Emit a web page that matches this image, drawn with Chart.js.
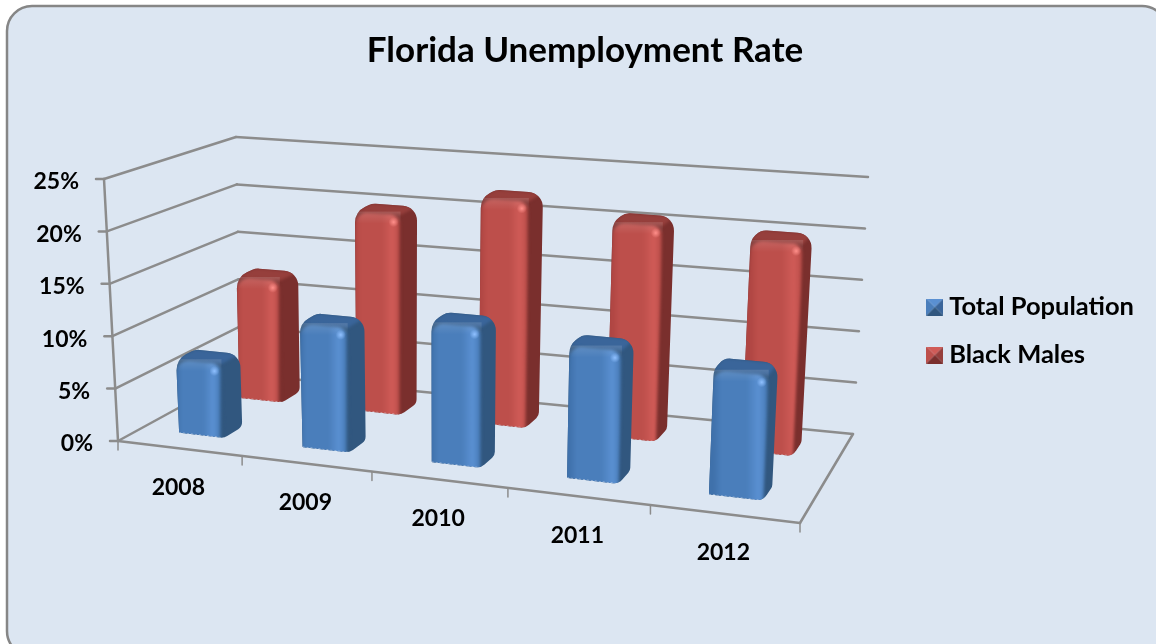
<!DOCTYPE html>
<html>
<head>
<meta charset="utf-8">
<title>Florida Unemployment Rate</title>
<script src="https://cdn.jsdelivr.net/npm/chart.js@4"></script>
<style>
  html, body { margin: 0; background: #fff; }
  #wrap { width: 1156px; height: 644px; position: relative; overflow: hidden; }
</style>
</head>
<body>
<div id="wrap"><canvas id="chart"></canvas></div>
<script>
const years = ['2008', '2009', '2010', '2011', '2012'];
const totalPopulation = [7.1, 11.8, 13.1, 12.2, 11.3];
const blackMales = [12.3, 19.9, 22.2, 20.8, 20.1];
const seriesNames = ['Total Population', 'Black Males'];

const FONT = 'Lato, Carlito, "Open Sans", sans-serif';

// Oblique box the chart sits in: screen corners of the value/category/depth cube.
const CUBE = {
  c000: [118, 441], c100: [800, 523], c001: [240.5, 374], c101: [853, 434],
  c010: [104, 179], c110: [814.5, 239], c011: [236, 137], c111: [868, 177]
};
const NEARER_RIGHT = 0.89;

const mix = (a, b, t) => [a[0] + (b[0] - a[0]) * t, a[1] + (b[1] - a[1]) * t];

function project(u, v, d) {
  const w = NEARER_RIGHT * u / ((1 - u) + NEARER_RIGHT * u);
  const bottom = mix(mix(CUBE.c000, CUBE.c100, w), mix(CUBE.c001, CUBE.c101, w), d);
  const top = mix(mix(CUBE.c010, CUBE.c110, w), mix(CUBE.c011, CUBE.c111, w), d);
  return mix(bottom, top, v);
}

const LOOKS = [
  { depth: [0.19, 0.35], front: '#4a7ebb', left: '#3f71ab', glow: '#5a90d2', side: '#31577f', top: '#3a659a', spot: '#8fc0ff', name: '#4f81bd' },
  { depth: [0.70, 0.855], front: '#bd4f4b', left: '#b04643', glow: '#d05b57', side: '#7a2f2d', top: '#963f3c', spot: '#ff8f8a', name: '#c0504d' }
];

function roundedPath(ctx, pts, radii) {
  const n = pts.length;
  const start = mix(pts[n - 1], pts[0], 0.5);
  ctx.beginPath();
  ctx.moveTo(start[0], start[1]);
  for (let i = 0; i < n; i++) {
    const p = pts[i], q = pts[(i + 1) % n];
    ctx.arcTo(p[0], p[1], q[0], q[1], radii[i]);
  }
  ctx.closePath();
}

function drawColumn(ctx, chart, el, look) {
  const a = chart.chartArea;
  const u0 = (el.x - el.width / 2 - a.left) / a.width;
  const u1 = (el.x + el.width / 2 - a.left) / a.width;
  const v = (a.bottom - el.y) / a.height;
  const [d0, d1] = look.depth;

  const fbl = project(u0, 0, d0), fbr = project(u1, 0, d0), bbr = project(u1, 0, d1);
  const ftl = project(u0, v, d0), ftr = project(u1, v, d0);
  const btr = project(u1, v, d1), btl = project(u0, v, d1);

  ctx.save();
  roundedPath(ctx, [fbl, fbr, bbr, btr, btl, ftl], [1, 11, 8, 15, 14, 17]);
  ctx.clip();
  ctx.fillStyle = look.side;
  ctx.fillRect(fbl[0] - 40, btl[1] - 40, bbr[0] - fbl[0] + 80, fbr[1] - btl[1] + 80);

  // top face
  ctx.save();
  ctx.filter = 'blur(1.5px)';
  ctx.fillStyle = look.top;
  ctx.beginPath();
  [ftl, ftr, btr, btl].forEach((p, i) => i ? ctx.lineTo(p[0], p[1]) : ctx.moveTo(p[0], p[1]));
  ctx.closePath();
  ctx.fill();

  // front face, brighter towards its right-hand bevel
  const g = ctx.createLinearGradient(ftl[0], 0, ftr[0], 0);
  g.addColorStop(0, look.left);
  g.addColorStop(0.14, look.front);
  g.addColorStop(0.6, look.front);
  g.addColorStop(0.82, look.glow);
  g.addColorStop(0.95, look.front);
  g.addColorStop(1, look.side);
  ctx.fillStyle = g;
  roundedPath(ctx, [[fbl[0] - 6, fbl[1] + 8], [fbr[0], fbr[1] + 8], ftr, ftl], [0, 0, 11, 13]);
  ctx.fill();
  ctx.restore();

  // lit rim along the top of the front face
  const rim = ctx.createLinearGradient(0, ftl[1], 0, ftl[1] + 12);
  rim.addColorStop(0, 'rgba(255,255,255,0.13)');
  rim.addColorStop(1, 'rgba(255,255,255,0)');
  ctx.fillStyle = rim;
  ctx.fillRect(ftl[0], ftl[1], ftr[0] - ftl[0], 14);

  // specular spot on the corner
  const sx = ftr[0] - 7, sy = ftr[1] + 7;
  const spot = ctx.createRadialGradient(sx, sy, 0, sx, sy, 5);
  spot.addColorStop(0, look.spot);
  spot.addColorStop(1, look.spot + '00');
  ctx.fillStyle = spot;
  ctx.fillRect(sx - 6, sy - 6, 12, 12);

  // pale dotted foot
  ctx.strokeStyle = 'rgba(235,240,250,0.65)';
  ctx.lineWidth = 1;
  ctx.setLineDash([2, 2]);
  ctx.beginPath();
  ctx.moveTo(fbl[0], fbl[1]);
  ctx.lineTo(fbr[0], fbr[1]);
  ctx.stroke();
  ctx.restore();
}

function line(ctx, a, b) {
  ctx.beginPath();
  ctx.moveTo(a[0], a[1]);
  ctx.lineTo(b[0], b[1]);
  ctx.stroke();
}

const chartFrame = {
  id: 'chartFrame',
  beforeDraw(chart) {
    const ctx = chart.ctx;
    ctx.save();
    ctx.fillStyle = '#dce6f2';
    ctx.strokeStyle = '#868686';
    ctx.lineWidth = 2.5;
    ctx.beginPath();
    ctx.roundRect(7, 6, 1160, 650, 25);
    ctx.fill();
    ctx.stroke();
    ctx.restore();
  }
};

const obliqueAxes = {
  id: 'obliqueAxes',
  beforeDatasetsDraw(chart) {
    const ctx = chart.ctx;
    const { x: xs, y: ys } = chart.scales;
    const a = chart.chartArea;
    ctx.save();
    ctx.strokeStyle = '#8c8c8c';
    ctx.lineWidth = 2.5;
    ctx.lineCap = 'round';

    // side and back walls, one pair of rules per value tick
    ys.ticks.forEach((t) => {
      const v = (a.bottom - ys.getPixelForValue(t.value)) / a.height;
      const front = project(0, v, 0), back = project(0, v, 1);
      line(ctx, front, back);
      line(ctx, back, project(1, v, 1));
      line(ctx, [front[0] - 8, front[1]], front);
    });
    // floor and upright axis
    line(ctx, project(0, 0, 0), project(1, 0, 0));
    line(ctx, project(1, 0, 0), project(1, 0, 1));
    line(ctx, project(0, 0, 0), project(0, 1, 0));

    // category separators on the front edge
    ctx.lineWidth = 1.5;
    for (let i = 0; i <= years.length; i++) {
      const p = project(i / years.length, 0, 0);
      line(ctx, p, [p[0], p[1] + 9]);
    }

    ctx.fillStyle = '#000';
    ctx.font = 'bold 23px ' + FONT;
    ctx.textBaseline = 'middle';
    ctx.textAlign = 'right';
    ys.ticks.forEach((t) => {
      const v = (a.bottom - ys.getPixelForValue(t.value)) / a.height;
      const p = project(0, v, 0);
      ctx.fillText(t.label, p[0] - 25, p[1] + 3);
    });
    ctx.textAlign = 'center';
    xs.ticks.forEach((t, i) => {
      const u = (xs.getPixelForValue(i) - a.left) / a.width;
      const p = project(u, 0, 0);
      ctx.fillText(t.label, p[0] - 1, p[1] + 39);
    });
    ctx.restore();
  },
  beforeDatasetDraw(chart, args) {
    const look = LOOKS[args.index];
    args.meta.data.forEach((el) => drawColumn(chart.ctx, chart, el, look));
    return false;
  }
};

function swatch(look) {
  const c = document.createElement('canvas');
  c.width = 17; c.height = 17;
  const x = c.getContext('2d');
  const tri = (col, pts) => {
    x.fillStyle = col;
    x.beginPath();
    pts.forEach((p, i) => i ? x.lineTo(p[0], p[1]) : x.moveTo(p[0], p[1]));
    x.closePath();
    x.fill();
  };
  tri(look.front, [[0, 0], [8.5, 8.5], [0, 17]]);
  tri(look.glow, [[0, 0], [17, 0], [8.5, 8.5]]);
  tri(look.top, [[17, 0], [17, 17], [8.5, 8.5]]);
  tri(look.side, [[0, 17], [17, 17], [8.5, 8.5]]);
  return c;
}
const swatches = LOOKS.map(swatch);

new Chart(document.getElementById('chart'), {
  type: 'bar',
  data: {
    labels: years,
    datasets: [
      { label: seriesNames[0], data: totalPopulation, backgroundColor: LOOKS[0].name },
      { label: seriesNames[1], data: blackMales, backgroundColor: LOOKS[1].name }
    ]
  },
  plugins: [chartFrame, obliqueAxes],
  options: {
    responsive: true,
    maintainAspectRatio: false,
    animation: false,
    grouped: false,
    barPercentage: 0.67,
    categoryPercentage: 0.55,
    layout: { padding: { left: 26, right: 12, top: 18, bottom: 0 } },
    scales: {
      x: { display: false, type: 'category' },
      y: { display: false, min: 0, max: 25, ticks: { stepSize: 5, callback: (v) => v + '%' } }
    },
    plugins: {
      title: {
        display: true,
        text: 'Florida Unemployment Rate',
        color: '#000',
        font: { family: FONT, size: 35, weight: 'bold' },
        padding: { top: 12, bottom: 43 }
      },
      legend: {
        position: 'right',
        labels: {
          usePointStyle: true,
          boxWidth: 3,
          boxHeight: 23,
          padding: 22.5,
          color: '#000',
          font: { family: FONT, size: 25.5, weight: 'bold' },
          generateLabels: (chart) => chart.data.datasets.map((ds, i) => ({
            text: ds.label,
            fillStyle: ds.backgroundColor,
            strokeStyle: ds.backgroundColor,
            lineWidth: 0,
            pointStyle: swatches[i],
            fontColor: '#000',
            datasetIndex: i
          }))
        }
      },
      tooltip: { enabled: false }
    }
  }
});
</script>
</body>
</html>
